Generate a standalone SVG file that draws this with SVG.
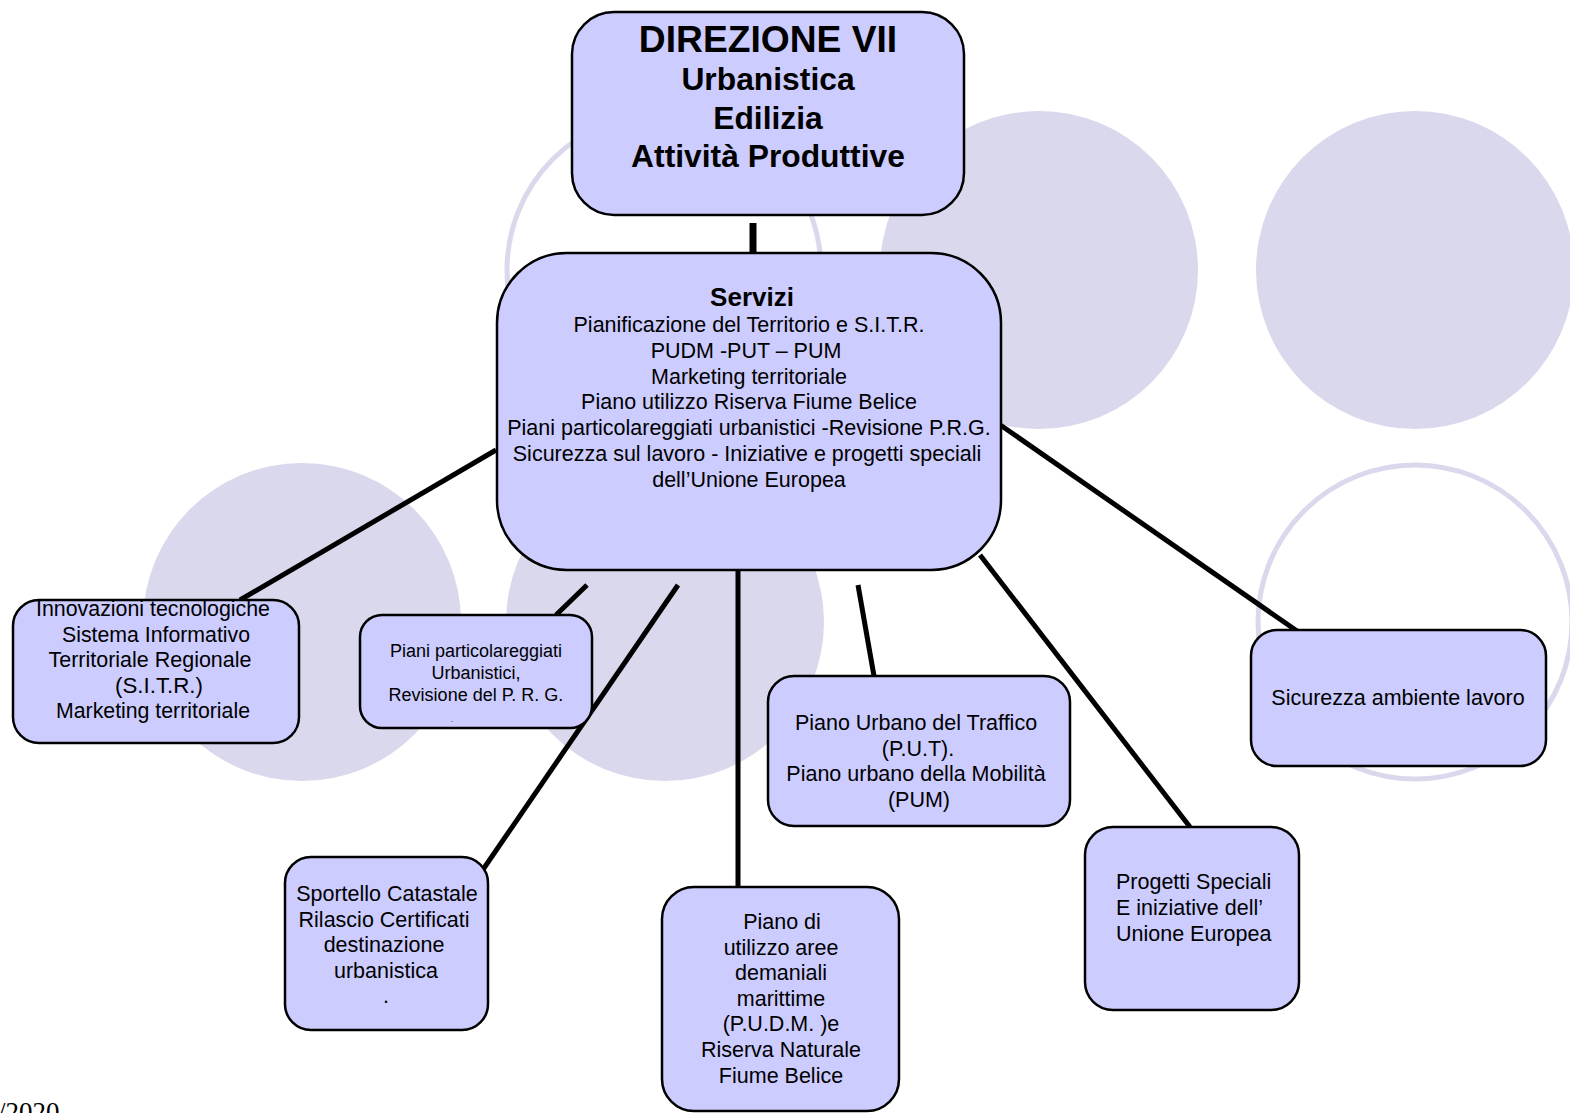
<svg xmlns="http://www.w3.org/2000/svg" width="1570" height="1113" viewBox="0 0 1570 1113">
<style>
.bg{fill:#dad8ec;stroke:none}
.ring{fill:none;stroke:#dad8ec;stroke-width:5}
.box{fill:#ccccff;stroke:#000;stroke-width:2.5}
.t{font-family:"Liberation Sans",Arial,sans-serif;font-size:21.5px;fill:#000;text-anchor:middle}
.b{font-weight:bold}
.c{stroke:#000;stroke-width:5;fill:none}
</style>
<rect width="1570" height="1113" fill="#fff"/>
<g id="background">
<circle class="ring" cx="664" cy="270" r="157"/>
<circle class="bg" cx="1039" cy="270" r="159"/>
<circle class="bg" cx="1415" cy="270" r="159"/>
<circle class="bg" cx="302" cy="622" r="159"/>
<circle class="bg" cx="665" cy="622" r="159"/>
<circle class="ring" cx="1415" cy="622" r="157"/>
</g>
<g id="connectors">
<line class="c" x1="753" y1="223" x2="753" y2="253" style="stroke-width:7"/>
<line class="c" x1="496" y1="450" x2="240" y2="600"/>
<line class="c" x1="587" y1="585" x2="556" y2="615"/>
<line class="c" x1="678" y1="585" x2="482" y2="871"/>
<line class="c" x1="738" y1="570" x2="738" y2="887"/>
<line class="c" x1="858" y1="585" x2="874" y2="676"/>
<line class="c" x1="980" y1="555" x2="1190" y2="827"/>
<line class="c" x1="996" y1="422" x2="1297" y2="631"/>
</g>
<g id="direzione">
<rect class="box" x="572" y="12" width="392" height="203" rx="42"/>
<text class="t b" x="768" y="52" style="font-size:37.2px">DIREZIONE VII</text>
<text class="t b" x="768" y="90" style="font-size:31.8px">Urbanistica</text>
<text class="t b" x="768" y="129" style="font-size:31.8px">Edilizia</text>
<text class="t b" x="768" y="167" style="font-size:31.8px">Attività Produttive</text>
</g>
<g id="servizi">
<rect class="box" x="497" y="253" width="504" height="317" rx="70"/>
<text class="t b" x="752" y="306" style="font-size:26px">Servizi</text>
<text class="t" x="749" y="332">Pianificazione del Territorio e S.I.T.R.</text>
<text class="t" x="746" y="358">PUDM -PUT – PUM</text>
<text class="t" x="749" y="384">Marketing territoriale</text>
<text class="t" x="749" y="409">Piano utilizzo Riserva Fiume Belice</text>
<text class="t" x="749" y="435">Piani particolareggiati urbanistici -Revisione P.R.G.</text>
<text class="t" x="747" y="461">Sicurezza sul lavoro - Iniziative e progetti speciali</text>
<text class="t" x="749" y="487">dell’Unione Europea</text>
</g>
<g id="innovazioni">
<rect class="box" x="13" y="600" width="286" height="143" rx="26"/>
<text class="t" x="153" y="616" textLength="234" lengthAdjust="spacingAndGlyphs">Innovazioni tecnologiche</text>
<text class="t" x="156" y="642" textLength="188" lengthAdjust="spacingAndGlyphs">Sistema Informativo</text>
<text class="t" x="150" y="667" textLength="203" lengthAdjust="spacingAndGlyphs">Territoriale Regionale</text>
<text class="t" x="159" y="693" textLength="88" lengthAdjust="spacingAndGlyphs">(S.I.T.R.)</text>
<text class="t" x="153" y="718" textLength="194" lengthAdjust="spacingAndGlyphs">Marketing territoriale</text>
</g>
<g id="piani">
<rect class="box" x="360" y="615" width="232" height="113" rx="22"/>
<text class="t" x="476" y="657" style="font-size:18px">Piani particolareggiati</text>
<text class="t" x="476" y="679" style="font-size:18px">Urbanistici,</text>
<text class="t" x="476" y="701" style="font-size:18px">Revisione del P. R. G.</text>
<text class="t" x="452" y="722" style="font-size:8px">.</text>
</g>
<g id="sportello">
<rect class="box" x="285" y="857" width="203" height="173" rx="26"/>
<text class="t" x="387" y="901">Sportello Catastale</text>
<text class="t" x="384" y="927">Rilascio Certificati</text>
<text class="t" x="384" y="952">destinazione</text>
<text class="t" x="386" y="978">urbanistica</text>
<text class="t" x="386" y="1003">.</text>
</g>
<g id="pudm">
<rect class="box" x="662" y="887" width="237" height="224" rx="32"/>
<text class="t" x="782" y="929">Piano di</text>
<text class="t" x="781" y="955">utilizzo aree</text>
<text class="t" x="781" y="980">demaniali</text>
<text class="t" x="781" y="1006">marittime</text>
<text class="t" x="781" y="1031">(P.U.D.M. )e</text>
<text class="t" x="781" y="1057">Riserva Naturale</text>
<text class="t" x="781" y="1083">Fiume Belice</text>
</g>
<g id="put">
<rect class="box" x="768" y="676" width="302" height="150" rx="26"/>
<text class="t" x="916" y="730">Piano Urbano del Traffico</text>
<text class="t" x="918" y="756">(P.U.T).</text>
<text class="t" x="916" y="781">Piano urbano della Mobilità</text>
<text class="t" x="919" y="807">(PUM)</text>
</g>
<g id="progetti">
<rect class="box" x="1085" y="827" width="214" height="183" rx="28"/>
<text class="t" x="1116" y="889" style="text-anchor:start">Progetti Speciali</text>
<text class="t" x="1116" y="915" style="text-anchor:start">E iniziative dell’</text>
<text class="t" x="1116" y="941" style="text-anchor:start">Unione Europea</text>
</g>
<g id="sicurezza">
<rect class="box" x="1251" y="630" width="295" height="136" rx="26"/>
<text class="t" x="1398" y="705">Sicurezza ambiente lavoro</text>
</g>
<text x="-2" y="1121" style="font-family:'Liberation Serif','Times New Roman',serif;font-size:27px;fill:#000">/2020</text>
</svg>
